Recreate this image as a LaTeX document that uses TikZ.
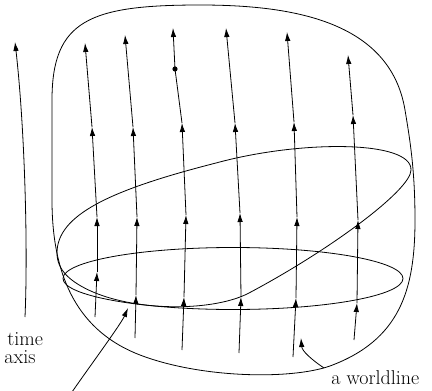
\documentclass[tikz,border=0pt]{standalone}
\usetikzlibrary{arrows.meta}
\begin{document}
\begin{tikzpicture}[x=1pt,y=-1pt, line width=0.8pt,
  wl/.style={-{Latex[length=9pt,width=5.5pt]}},
  lbl/.style={font=\fontsize{20}{19}\selectfont, inner sep=0pt},
  curve/.style={line width=0.8pt}]
\useasboundingbox (0,0) rectangle (432,391);

% outer blob
\coordinate (oA) at (52,100);
\coordinate (oB) at (200,5);
\coordinate (oC) at (405,110);
\coordinate (oD) at (415,220);
\coordinate (oE) at (330,366);
\coordinate (oF) at (140,355);
\coordinate (oG) at (52,200);
\draw[curve] (oA) .. controls (52,20) and (90,5) .. (oB)
  .. controls (290,5) and (390,20) .. (oC)
  .. controls (410,140) and (415,170) .. (oD)
  .. controls (415,290) and (400,340) .. (oE)
  .. controls (290,380) and (200,378) .. (oF)
  .. controls (80,332) and (52,280) .. (oG) -- cycle;

% tilted surface
\coordinate (tL) at (57,253);
\coordinate (tT) at (216,163);
\coordinate (tR) at (411,170);
\coordinate (tB) at (249,293);
\coordinate (tC) at (93,292);
\draw[curve] (tL) .. controls (57,215) and (110,190) .. (tT)
  .. controls (300,140) and (412,140) .. (tR)
  .. controls (411,190) and (330,250) .. (tB)
  .. controls (215,311) and (140,312) .. (tC)
  .. controls (70,282) and (57,270) .. (tL) -- cycle;

% flat surface
\draw[curve] (233,278.5) ellipse [x radius=170pt, y radius=31pt];

% time axis
\coordinate (ta0) at (25,317);
\coordinate (ta1) at (15,42);
\draw[wl] (ta0) .. controls (28,250) and (25,130) .. (ta1);
\node[lbl, anchor=base west] (timelbl) at (7,345) {time};
\node[lbl, anchor=base west] (axislbl) at (4,363) {axis};

% worldline 1
\coordinate (w1a) at (95,317); \coordinate (w1b) at (97,272);
\coordinate (w1c) at (97,217); \coordinate (w1d) at (92,127);
\coordinate (w1e) at (85,43);
\draw[wl] (w1a) -- (w1b); \draw[wl] (w1b) -- (w1c);
\draw[wl] (w1c) -- (w1d); \draw[wl] (w1d) -- (w1e);

% worldline 2
\coordinate (w2a) at (135,338); \coordinate (w2b) at (136,295);
\coordinate (w2c) at (137,217); \coordinate (w2d) at (133,127);
\coordinate (w2e) at (125,35);
\draw[wl] (w2a) -- (w2b); \draw[wl] (w2b) -- (w2c);
\draw[wl] (w2c) -- (w2d); \draw[wl] (w2d) -- (w2e);

% worldline 3
\coordinate (w3a) at (182,350); \coordinate (w3b) at (184,297);
\coordinate (w3c) at (186,215); \coordinate (w3d) at (182,123);
\coordinate (w3p) at (175,69); \coordinate (w3e) at (173,28);
\draw[wl] (w3a) -- (w3b); \draw[wl] (w3b) -- (w3c);
\draw[wl] (w3c) -- (w3d); \draw[wl] (w3d) -- (w3p) -- (w3e);
\fill (w3p) circle (2.6pt);

% worldline 4
\coordinate (w4a) at (239,353); \coordinate (w4b) at (241,297);
\coordinate (w4c) at (240,213); \coordinate (w4d) at (235,123);
\coordinate (w4e) at (226,28);
\draw[wl] (w4a) -- (w4b); \draw[wl] (w4b) -- (w4c);
\draw[wl] (w4c) -- (w4d); \draw[wl] (w4d) -- (w4e);

% worldline 5
\coordinate (w5a) at (293,357); \coordinate (w5b) at (296,298);
\coordinate (w5c) at (297,217); \coordinate (w5d) at (294,122);
\coordinate (w5e) at (287,32);
\draw[wl] (w5a) -- (w5b); \draw[wl] (w5b) -- (w5c);
\draw[wl] (w5c) -- (w5d); \draw[wl] (w5d) -- (w5e);

% worldline 6
\coordinate (w6a) at (354,340); \coordinate (w6b) at (357,303);
\coordinate (w6c) at (358,220); \coordinate (w6d) at (353,115);
\coordinate (w6e) at (348,55);
\draw[wl] (w6a) -- (w6b); \draw[wl] (w6b) -- (w6c);
\draw[wl] (w6c) -- (w6d); \draw[wl] (w6d) -- (w6e);

% pointer to intersection
\coordinate (p0) at (72,392);
\coordinate (p1) at (128,308);
\draw[wl] (p0) .. controls (90,366) and (121,324) .. (p1);

% worldline label
\node[lbl, anchor=base west] (wlbl) at (331,384) {a worldline};
\coordinate (q0) at (324,368);
\coordinate (q1) at (301,338);
\draw[wl] (q0) .. controls (312,360) and (302,351) .. (q1);
\end{tikzpicture}
\end{document}
